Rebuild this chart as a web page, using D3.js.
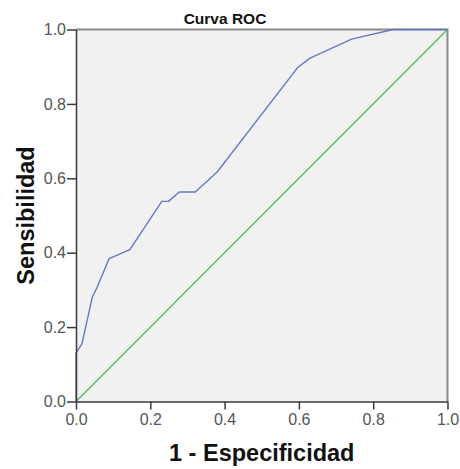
<!DOCTYPE html>
<html>
<head>
<meta charset="utf-8">
<script src="https://cdn.jsdelivr.net/npm/d3@7"></script>
<style>
  html, body { margin: 0; padding: 0; background: #ffffff; }
  svg { display: block; }
  text { font-family: Arial, "Liberation Sans", sans-serif; }
</style>
</head>
<body>
<svg id="chart" width="460" height="469"></svg>
<script>
// ROC curve: false positive rate (1 - specificity) vs. sensitivity
const fpr = [0, 0, 0.016, 0.044, 0.056, 0.089, 0.145, 0.231, 0.249, 0.278, 0.321, 0.380, 0.596, 0.630, 0.742, 0.854, 1.0];
const tpr = [0, 0.130, 0.155, 0.281, 0.305, 0.384, 0.408, 0.538, 0.538, 0.563, 0.563, 0.617, 0.897, 0.923, 0.974, 1.0, 1.0];
// Reference (chance) line
const refX = [0, 1];
const refY = [0, 1];
const tickValues = [0, 0.2, 0.4, 0.6, 0.8, 1.0];

const title = "Curva ROC";
const xTitle = "1 - Especificidad";
const yTitle = "Sensibilidad";

const svg = d3.select("#chart");
const plotLeft = 76, plotRight = 447.5, plotTop = 29.5, plotBottom = 401.5;

const x = d3.scaleLinear().domain([0, 1]).range([plotLeft, plotRight]);
const y = d3.scaleLinear().domain([0, 1]).range([plotBottom, plotTop]);

// plot background
svg.append("rect")
  .attr("x", plotLeft).attr("y", plotTop)
  .attr("width", plotRight - plotLeft).attr("height", plotBottom - plotTop)
  .attr("fill", "#f1f1f1");

// top and right frame
svg.append("path")
  .attr("d", `M${plotLeft},${plotTop}H${plotRight}V${plotBottom}`)
  .attr("fill", "none")
  .attr("stroke", "#8a8a8a")
  .attr("stroke-width", 2);

const line = d3.line().x(d => x(d[0])).y(d => y(d[1]));

svg.append("path")
  .datum(refX.map((v, i) => [v, refY[i]]))
  .attr("d", line)
  .attr("fill", "none")
  .attr("stroke", "#55bb5e")
  .attr("stroke-width", 1.3);

svg.append("path")
  .datum(fpr.map((v, i) => [v, tpr[i]]))
  .attr("d", line)
  .attr("fill", "none")
  .attr("stroke", "#6479c6")
  .attr("stroke-width", 1.4)
  .attr("stroke-linejoin", "round");

const fmt = d3.format(".1f");

const xAxis = svg.append("g")
  .attr("transform", `translate(0,${plotBottom})`)
  .call(d3.axisBottom(x).tickValues(tickValues).tickFormat(fmt).tickSize(8).tickPadding(4).tickSizeOuter(0));

const yAxis = svg.append("g")
  .attr("transform", `translate(${plotLeft},0)`)
  .call(d3.axisLeft(y).tickValues(tickValues).tickFormat(fmt).tickSize(9).tickPadding(1).tickSizeOuter(0));

[xAxis, yAxis].forEach(g => {
  g.select(".domain").attr("stroke", "#3a3a3a").attr("stroke-width", 1.5);
  g.selectAll(".tick line").attr("stroke", "#3a3a3a").attr("stroke-width", 1.5);
  g.selectAll(".tick text")
    .attr("fill", "#555555")
    .style("font-size", "16px")
    .style("font-family", "Arial, 'Liberation Sans', sans-serif");
});

svg.append("text")
  .attr("x", 225).attr("y", 24)
  .attr("text-anchor", "middle")
  .attr("font-weight", "bold")
  .attr("font-size", 15.5)
  .attr("fill", "#111")
  .text(title);

svg.append("text")
  .attr("x", (plotLeft + plotRight) / 2).attr("y", 461)
  .attr("text-anchor", "middle")
  .attr("font-weight", "bold")
  .attr("font-size", 23.5)
  .attr("fill", "#111")
  .text(xTitle);

svg.append("text")
  .attr("transform", `translate(34,${(plotTop + plotBottom) / 2}) rotate(-90)`)
  .attr("text-anchor", "middle")
  .attr("font-weight", "bold")
  .attr("font-size", 23.5)
  .attr("fill", "#111")
  .text(yTitle);
</script>
</body>
</html>
